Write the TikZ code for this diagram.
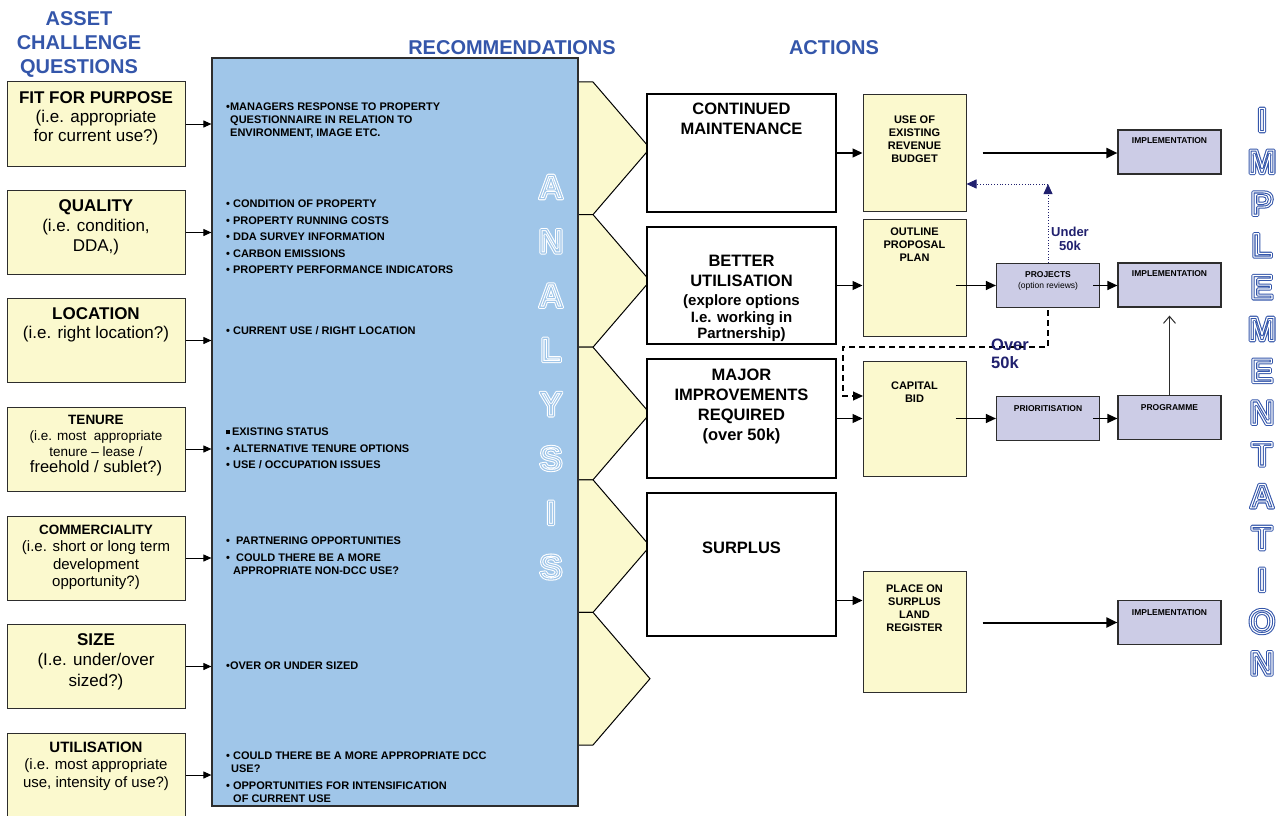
\documentclass[tikz,border=0pt]{standalone}
\usepackage{fontspec}
\setmainfont{Liberation Sans}
\usepackage{xcolor}
\usetikzlibrary{arrows.meta, positioning, calc}
\definecolor{qyellow}{RGB}{251,249,206}
\definecolor{recblue}{RGB}{160,198,233}
\definecolor{implpurple}{RGB}{204,204,230}
\definecolor{headblue}{RGB}{52,86,170}
\definecolor{labelnavy}{RGB}{32,32,110}
\definecolor{edgegray}{RGB}{45,45,45}

% stroked (hollow) letters: colour, stroke width in bp, text
\newcommand{\hollowch}[3]{{\color{#1}\special{pdf:literal direct 1 Tr #2 w 1 j}#3\special{pdf:literal direct 0 Tr}}}
\newcommand{\fsz}[2]{\fontsize{#1}{#2}\selectfont}

\begin{document}
\begin{tikzpicture}[x=1pt, y=-1pt,
  head/.style={font=\fsz{20}{24}\bfseries, text=headblue, align=center, inner sep=0pt},
  qbox/.style={draw=edgegray, line width=1pt, fill=qyellow, minimum width=178pt,
               minimum height=84pt, inner sep=0pt},
  qtext/.style={anchor=north, align=center, inner sep=0pt, font=\fsz{17}{19}},
  chev/.style={draw=black, line width=1pt, fill=qyellow},
  rtext/.style={anchor=north west, align=left, inner sep=0pt, font=\fsz{11}{13}\bfseries},
  abox/.style={draw=black, line width=1.3pt, fill=white, minimum width=189pt, inner sep=0pt},
  atext/.style={anchor=north, align=center, inner sep=0pt, font=\fsz{16.5}{20.5}\bfseries},
  mbox/.style={draw=edgegray, line width=1pt, fill=qyellow, minimum width=103pt, inner sep=0pt},
  mtext/.style={anchor=north, align=center, inner sep=0pt, font=\fsz{11}{13}\bfseries},
  pbox/.style={draw=edgegray, line width=1.2pt, fill=implpurple, minimum width=103pt,
               minimum height=44pt, inner sep=0pt},
  ptext/.style={anchor=north, align=center, inner sep=0pt, font=\fsz{8.5}{11}\bfseries},
  bigch/.style={inner sep=0pt, font=\fsz{34}{34}\bfseries},
  navylabel/.style={text=labelnavy, inner sep=0pt, font=\bfseries},
  qarrow/.style={-{Triangle[length=8pt,width=7pt]}, line width=1pt},
  marrow/.style={-{Triangle[length=10pt,width=9pt]}, line width=1.3pt},
  tarrow/.style={-{Triangle[length=11pt,width=10pt]}, line width=2pt},
  oarrow/.style={-{Straight Barb[length=7pt,width=12pt]}, line width=1pt, draw=edgegray},
  uarrow/.style={-{Triangle[length=10pt,width=9pt]}, dotted, line width=0.8pt, draw=labelnavy},
  darrow/.style={-{Triangle[length=10pt,width=9pt]}, dash pattern=on 6pt off 4pt, line width=1.2pt}
]
  \useasboundingbox (0,0) rectangle (1286,816);

  % Column headings
  \node[head] (hq) at (79,44.5) {ASSET\\CHALLENGE\\QUESTIONS};
  \node[head] (hr) at (512,48) {RECOMMENDATIONS};
  \node[head] (ha) at (834,48) {ACTIONS};

  % Chevrons behind the analysis panel
  \foreach \i in {0,...,4}{
    \pgfmathsetmacro{\t}{82+132.6*\i}
    \draw[chev] (570,\t) -- (593,\t) -- (650,\t+66.3) -- (593,\t+132.6) -- (570,\t+132.6) -- cycle;
  }

  % Analysis panel
  \node[draw=edgegray, line width=1.2pt, fill=recblue, minimum width=366pt,
        minimum height=748pt, inner sep=0pt] (rec) at (395,432) {};

  % Asset challenge questions
  \node[qbox] (fit) at (96,124) {};
  \node[qtext] (fit-t) at ([yshift=-9.5pt]fit.north)
    {\textbf{FIT FOR PURPOSE}\\(i.e. appropriate\\for current use?)};
  \node[qbox] (qual) at (96,232.5) {};
  \node[qtext, font=\fsz{17}{20}] (qual-t) at ([yshift=-9.5pt]qual.north)
    {\textbf{QUALITY}\\(i.e. condition,\\DDA,)};
  \node[qbox] (loc) at (96,340.5) {};
  \node[qtext] (loc-t) at ([yshift=-9.5pt]loc.north)
    {\textbf{LOCATION}\\(i.e. right location?)};
  \node[qbox] (ten) at (96,449) {};
  \node[qtext, font=\fsz{13.5}{16}] (ten-t) at ([yshift=-9pt]ten.north)
    {\textbf{TENURE}\\(i.e. most\ \ appropriate\\tenure -- lease /\\{\fsz{16.5}{16}freehold / sublet?)}};
  \node[qbox] (comm) at (96,558) {};
  \node[qtext, font=\fsz{15}{17.5}] (comm-t) at ([yshift=-9pt]comm.north)
    {{\fsz{13.5}{16}\bfseries COMMERCIALITY}\\(i.e. short or long term\\development\\opportunity?)};
  \node[qbox] (size) at (96,666.5) {};
  \node[qtext, font=\fsz{17}{20.5}] (size-t) at ([yshift=-9pt]size.north)
    {\textbf{SIZE}\\(I.e. under/over\\sized?)};
  \node[qbox] (util) at (96,775) {};
  \node[qtext, font=\fsz{15}{17.5}] (util-t) at ([yshift=-9pt]util.north)
    {\textbf{UTILISATION}\\(i.e. most appropriate\\use, intensity of use?)};

  \foreach \b in {fit,qual,loc,ten,comm,size,util}
    \draw[qarrow] (\b.east) -- (\b.east -| rec.west);

  % Recommendations text
  \node[rtext] (r1) at (226,103)
    {\textbullet MANAGERS RESPONSE TO PROPERTY\\\hspace*{4pt}QUESTIONNAIRE IN RELATION TO\\\hspace*{4pt}ENVIRONMENT, IMAGE ETC.};
  \node[rtext, font=\fsz{11}{16.5}\bfseries] (r2) at (226,200)
    {\textbullet\ CONDITION OF PROPERTY\\\textbullet\ PROPERTY RUNNING COSTS\\\textbullet\ DDA SURVEY INFORMATION\\\textbullet\ CARBON EMISSIONS\\\textbullet\ PROPERTY PERFORMANCE INDICATORS};
  \node[rtext] (r3) at (226,326) {\textbullet\ CURRENT USE / RIGHT LOCATION};
  \node[rtext, font=\fsz{11}{16.5}\bfseries] (r4) at (226,428)
    {\rule[1.5pt]{4pt}{4pt}\,EXISTING STATUS\\\textbullet\ ALTERNATIVE TENURE OPTIONS\\\textbullet\ USE / OCCUPATION ISSUES};
  \node[rtext] (r5) at (226,537)
    {\textbullet\ \ PARTNERING OPPORTUNITIES\\[4pt]\textbullet\ \ COULD THERE BE A MORE\\\hspace*{7pt}APPROPRIATE NON-DCC USE?};
  \node[rtext] (r6) at (226,662) {\textbullet OVER OR UNDER SIZED};
  \node[rtext] (r7) at (226,752)
    {\textbullet\ COULD THERE BE A MORE APPROPRIATE DCC\\\hspace*{5pt}USE?\\[4pt]\textbullet\ OPPORTUNITIES FOR INTENSIFICATION\\\hspace*{7pt}OF CURRENT USE};

  % ANALYSIS lettering
  \foreach \ch [count=\i from 0] in {A,N,A,L,Y,S,I,S}{
    \node[bigch] (ana-o\i) at (551,187+54.3*\i) {\hollowch{white}{3.2}{\ch}};
    \node[bigch] (ana-i\i) at (551,187+54.3*\i) {\hollowch{recblue}{1.1}{\ch}};
  }

  % Actions
  \node[abox, minimum height=118pt] (cont) at (741.5,153) {};
  \node[atext] (cont-t) at ([yshift=-9pt]cont.north) {CONTINUED\\MAINTENANCE};
  \node[abox, minimum height=117pt] (better) at (741.5,285.5) {};
  \begin{scope}
    \clip ([shift={(1pt,-1pt)}]better.south west) rectangle (better.north east);
    \node[atext, font=\fsz{16.5}{20}\bfseries] (better-t) at ([yshift=-29pt]better.north)
      {BETTER\\UTILISATION\\[-1pt]{\fsz{15}{17}\bfseries (explore options}\\[-3pt]{\fsz{15}{17}\bfseries I.e. working in}\\[-4pt]{\fsz{15}{17}\bfseries Partnership)}};
  \end{scope}
  \node[abox, minimum height=119pt] (major) at (741.5,418.5) {};
  \node[atext, font=\fsz{16.5}{20}\bfseries] (major-t) at ([yshift=-10pt]major.north)
    {MAJOR\\IMPROVEMENTS\\REQUIRED\\(over 50k)};
  \node[abox, minimum height=143pt] (surplus) at (741.5,564.5) {};
  \node[inner sep=0pt, font=\fsz{16.5}{20}\bfseries] (surplus-t) at (741.5,548) {SURPLUS};

  % Second stage
  \node[mbox, minimum height=116pt] (use) at (914.5,153) {};
  \node[mtext] (use-t) at ([yshift=-21pt]use.north) {USE OF\\EXISTING\\REVENUE\\BUDGET};
  \node[mbox, minimum height=117pt] (outline) at (914.5,277.5) {};
  \node[mtext] (outline-t) at ([yshift=-9pt]outline.north) {OUTLINE\\PROPOSAL\\PLAN};
  \node[mbox, minimum height=115pt] (capital) at (914.5,418.5) {};
  \node[mtext] (capital-t) at ([yshift=-21pt]capital.north) {CAPITAL\\BID};
  \node[mbox, minimum height=121pt] (place) at (914.5,631.5) {};
  \node[mtext] (place-t) at ([yshift=-14pt]place.north) {PLACE ON\\SURPLUS\\LAND\\REGISTER};

  % Implementation boxes
  \node[pbox] (impl1) at (1169.5,152) {};
  \node[ptext] (impl1-t) at ([yshift=-8pt]impl1.north) {IMPLEMENTATION};
  \node[pbox] (proj) at (1048,285.5) {};
  \node[ptext] (proj-t) at ([yshift=-8pt]proj.north) {PROJECTS\\{\mdseries (option reviews)}};
  \node[pbox] (impl2) at (1169.5,285) {};
  \node[ptext] (impl2-t) at ([yshift=-8pt]impl2.north) {IMPLEMENTATION};
  \node[pbox] (prio) at (1048,418.5) {};
  \node[ptext] (prio-t) at ([yshift=-9pt]prio.north) {PRIORITISATION};
  \node[pbox] (prog) at (1169.5,417.5) {};
  \node[ptext] (prog-t) at ([yshift=-9pt]prog.north) {PROGRAMME};
  \node[pbox] (impl3) at (1169.5,622.5) {};
  \node[ptext] (impl3-t) at ([yshift=-9pt]impl3.north) {IMPLEMENTATION};

  % Connectors
  \draw[marrow] (cont.east) -- (cont.east -| use.west);
  \draw[marrow] (better.east) -- (better.east -| outline.west);
  \draw[marrow] (major.east) -- (major.east -| capital.west);
  \coordinate (sp) at ([yshift=-36pt]surplus.east);
  \draw[marrow] (sp) -- (sp -| place.west);
  \draw[tarrow] ([xshift=16pt]use.east) -- (impl1.west |- use.east);
  \draw[marrow] ([xshift=-11pt]outline.east |- proj.west) -- (proj.west);
  \draw[marrow] ([xshift=-7pt]proj.east) -- (proj.east -| impl2.west);
  \draw[marrow] ([xshift=-11pt]capital.east |- prio.west) -- (prio.west);
  \draw[marrow] ([xshift=-7pt]prio.east) -- (prio.east -| prog.west);
  \draw[oarrow] (prog.north) -- ([yshift=-8pt]impl2.south);
  \draw[tarrow] ([xshift=16pt]place.east |- impl3.west) -- (impl3.west);

  % Under / over 50k routes
  \coordinate (ud) at (1048,184);
  \draw[uarrow] (proj.north) -- (ud);
  \draw[uarrow] (ud) -- (ud -| use.east);
  \node[navylabel, font=\fsz{13}{14}\bfseries, align=center] (under) at (1070,239) {Under\\50k};
  \coordinate (ovr) at (843,347);
  \coordinate (cin) at (863,396);
  \draw[darrow] ([yshift=-2pt]proj.south) |- (ovr) |- (cin);
  \node[navylabel, font=\fsz{16.5}{18}\bfseries, align=left, anchor=north west] (over) at (991,339) {Over\\50k};

  % IMPLEMENTATION lettering
  \foreach \ch [count=\i from 0] in {I,M,P,L,E,M,E,N,T,A,T,I,O,N}{
    \node[bigch] (imp-o\i) at (1262,120+41.8*\i) {\hollowch{headblue}{3.2}{\ch}};
    \node[bigch] (imp-i\i) at (1262,120+41.8*\i) {\hollowch{white}{1.1}{\ch}};
  }
\end{tikzpicture}
\end{document}
